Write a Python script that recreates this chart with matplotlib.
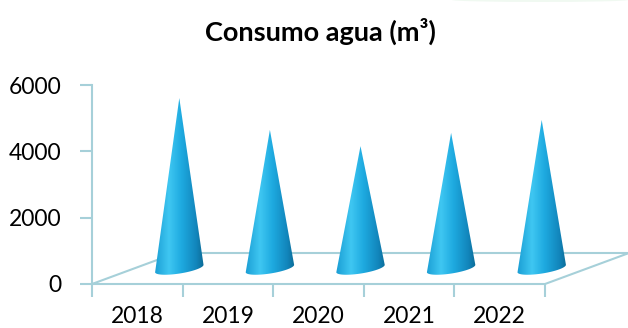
import numpy as np
import matplotlib.pyplot as plt
from matplotlib.colors import LinearSegmentedColormap
from matplotlib.patches import Polygon, Ellipse

plt.rcParams['font.family'] = ['Lato', 'DejaVu Sans']

# Datos
years = ['2018', '2019', '2020', '2021', '2022']
consumo = [5140, 4180, 3690, 4090, 4480]
yticks = [0, 2000, 4000, 6000]

W, H = 628, 328
fig = plt.figure(figsize=(W / 100, H / 100), dpi=100)
ax = fig.add_axes([92 / W, 44 / H, 453 / W, 199 / H])
ax.set_xlim(0, len(years))
ax.set_ylim(0, 6000)

# pixeles -> unidades de datos
px_x = 453 / len(years)
px_y = 199 / 6000
def dx(p):
    return p / px_x
def dy(p):
    return p / px_y

axis_col = '#a6d0d9'
depth_x, depth_y = dx(84), dy(31)

# suelo en perspectiva
n = len(years)
floor_x = [0, n, n + depth_x, depth_x, 0]
floor_y = [0, 0, depth_y, depth_y, 0]
ax.plot(floor_x, floor_y, color=axis_col, lw=1.5, clip_on=False, zorder=1)

# conos con degradado
cmap = LinearSegmentedColormap.from_list('cono', [
    (0.0, '#1a9dd4'), (0.3, '#3fc7f2'), (0.55, '#1eaae0'),
    (0.85, '#1285bb'), (1.0, '#0b6b96')])
grad = np.linspace(0, 1, 256).reshape(1, -1)

t = np.linspace(np.pi, 2 * np.pi, 60)
ang = np.deg2rad(9)
ex, ey = 24.5 * np.cos(t), 5 * np.sin(t)
bx = ex * np.cos(ang) - ey * np.sin(ang)
by = ex * np.sin(ang) + ey * np.cos(ang)

for i, v in enumerate(consumo):
    xc = i + 0.5 + depth_x / 2
    y0 = depth_y / 2
    xs = np.concatenate([[xc], xc + dx(bx)])
    ys = np.concatenate([[y0 + v], y0 + dy(by)])
    cone = Polygon(np.column_stack([xs, ys]), closed=True, fc='none', ec='none')
    ax.add_patch(cone)
    im = ax.imshow(grad, cmap=cmap, aspect='auto', zorder=3,
                   extent=[xc - dx(25), xc + dx(25), y0 - dy(10), y0 + v])
    im.set_clip_path(cone)
    im.set_clip_box(fig.bbox)

ax.set_xlim(0, n)
ax.set_ylim(0, 6000)

# ejes
for s in ['top', 'right', 'bottom']:
    ax.spines[s].set_visible(False)
ax.spines['left'].set_color(axis_col)
ax.spines['left'].set_linewidth(1.5)

ax.set_yticks(yticks)
ax.set_yticklabels([str(v) for v in yticks])
ax.set_xticks(np.arange(n + 1))
ax.set_xticklabels([])
ax.set_xticks(np.arange(n) + 0.5, minor=True)
ax.set_xticklabels(years, minor=True)
ax.tick_params(axis='both', which='major', direction='out', length=9, width=1.5,
               color=axis_col, labelsize=16.5, labelcolor='black')
ax.tick_params(axis='y', pad=13)
ax.tick_params(axis='x', which='minor', length=0, labelsize=16.5, pad=16)

fig.text(0.51, 0.905, 'Consumo agua (m³)', ha='center', va='center',
         fontsize=19.5, fontweight='bold')

# brillo verde en la esquina
fig.patches.append(Ellipse((0.86, 1.0), 0.28, 0.012, transform=fig.transFigure,
                           color='#e6f5e8', alpha=0.6, lw=0))

fig.savefig('out.png', dpi=100)
